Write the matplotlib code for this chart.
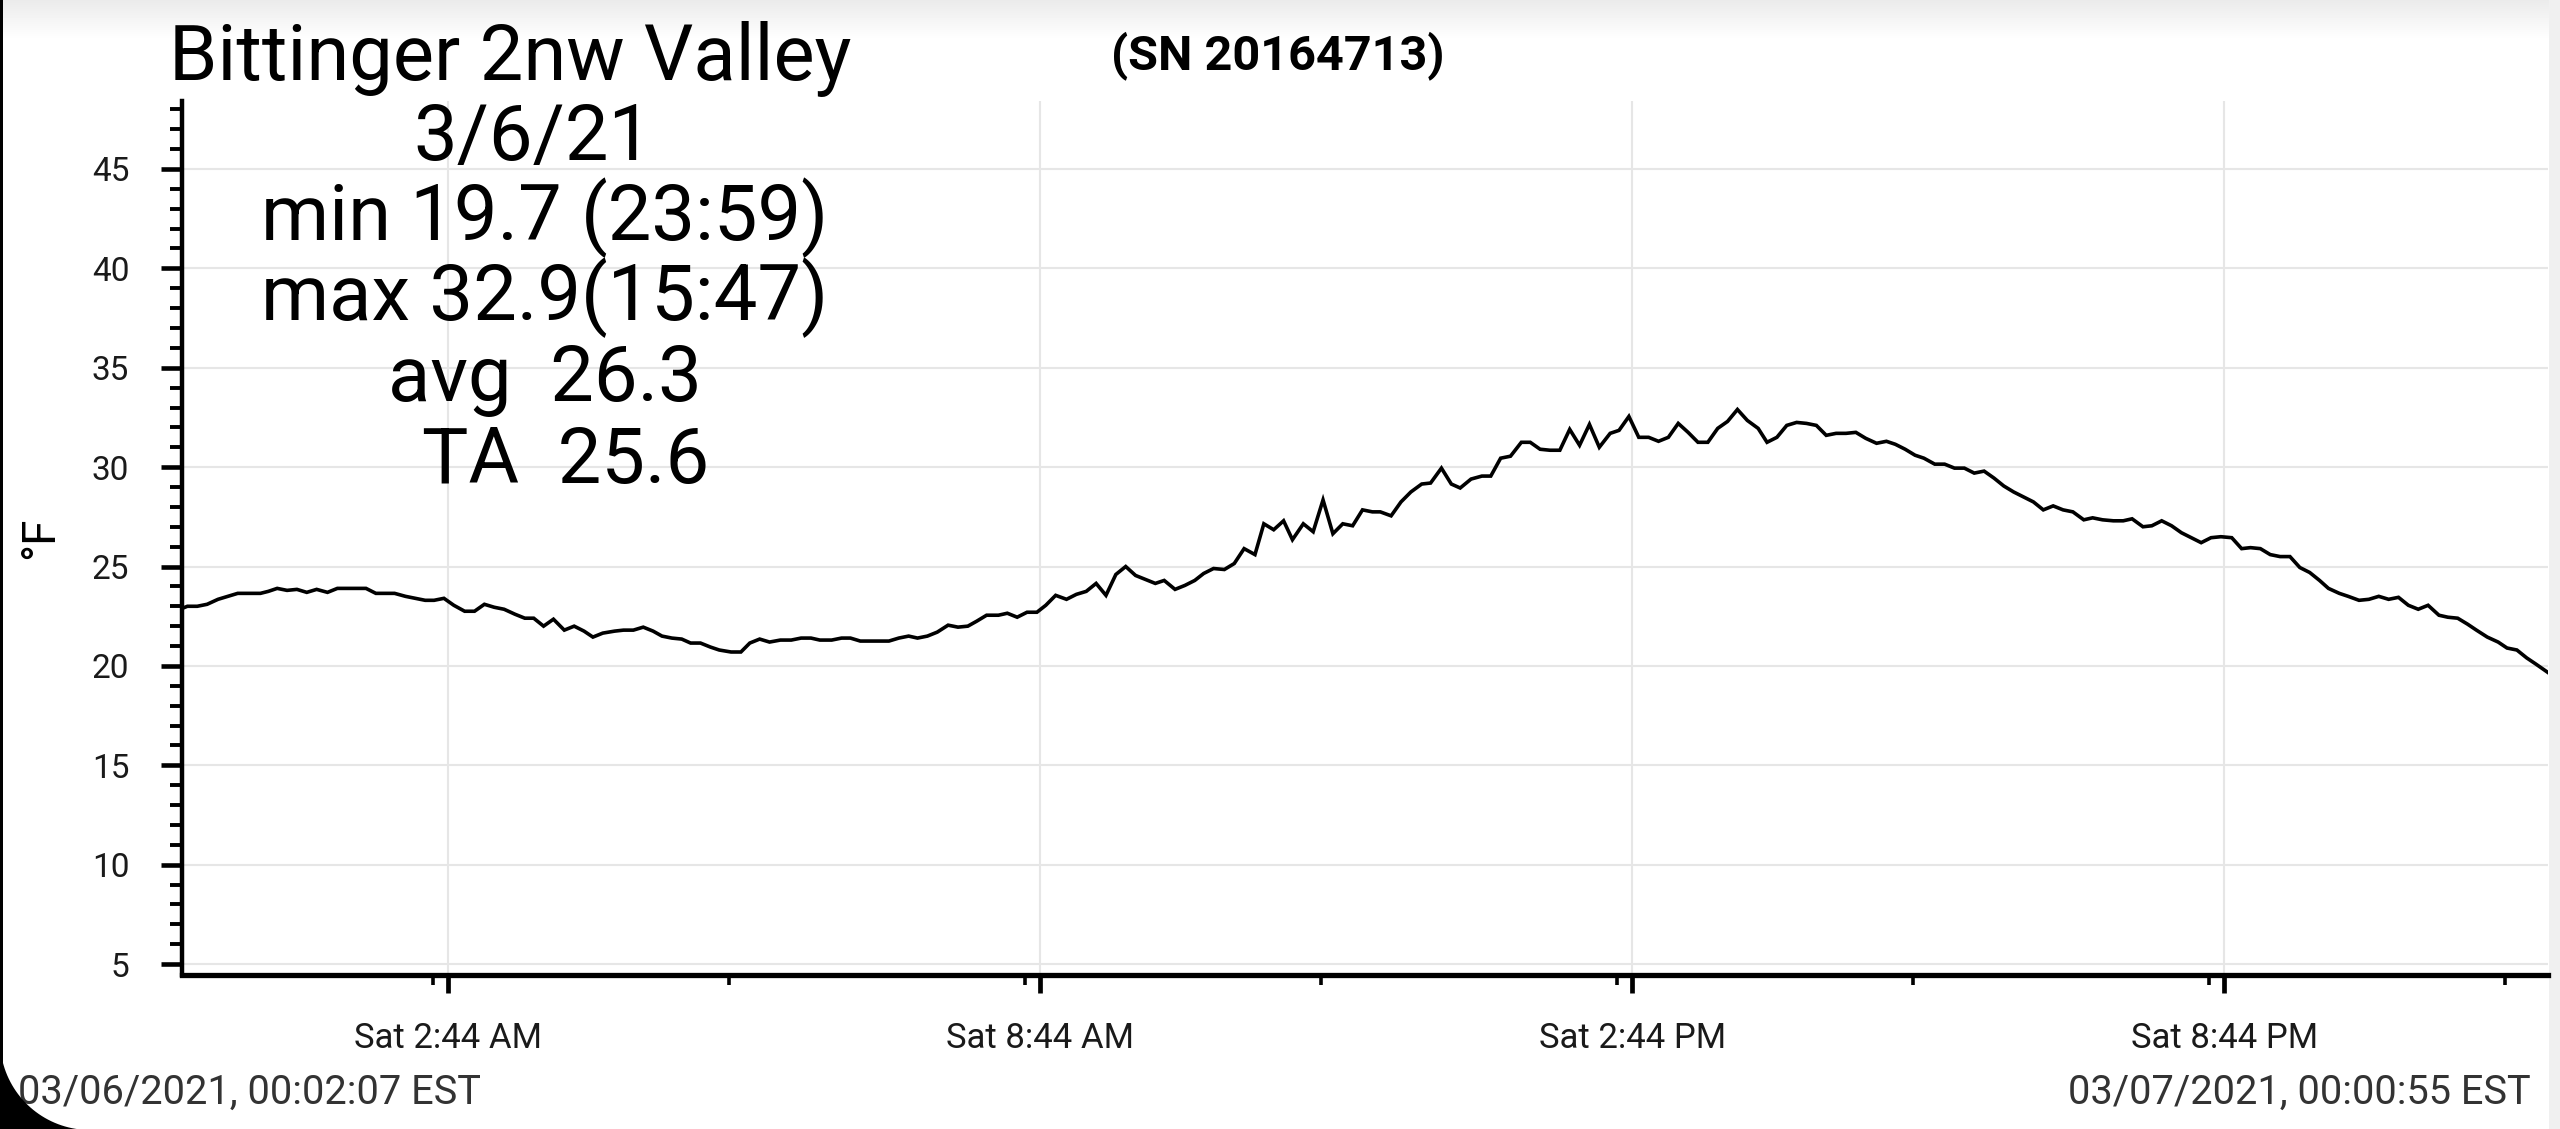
import numpy as np
import matplotlib
matplotlib.use("Agg")
import matplotlib.pyplot as plt
from matplotlib.patches import Rectangle, Polygon
from matplotlib.ticker import FixedLocator, MultipleLocator

plt.rcParams['font.family'] = ['Roboto', 'DejaVu Sans']

# temperature trace, hours since midnight 03/06/2021 and deg F
hours = [0.04, 0.09, 0.19, 0.29, 0.40, 0.50, 0.60, 0.71, 0.83, 0.91, 1.00, 1.10, 1.20, 1.30,
         1.40, 1.51, 1.61, 1.72, 1.81, 1.90, 2.00, 2.10, 2.19, 2.30, 2.40, 2.50, 2.59, 2.69,
         2.79, 2.90, 3.00, 3.10, 3.20, 3.30, 3.41, 3.51, 3.60, 3.70, 3.80, 3.91, 4.01, 4.11,
         4.20, 4.30, 4.42, 4.51, 4.61, 4.71, 4.81, 4.90, 5.00, 5.10, 5.19, 5.29, 5.39, 5.48,
         5.60, 5.70, 5.79, 5.89, 5.99,
         6.10, 6.21, 6.31, 6.41, 6.50, 6.62, 6.72, 6.81, 6.91, 7.01, 7.10, 7.20, 7.30, 7.40,
         7.49, 7.59, 7.69, 7.80, 7.90, 8.00, 8.09, 8.19, 8.31, 8.40, 8.50, 8.60, 8.70, 8.79,
         8.89, 9.00, 9.10, 9.20, 9.30, 9.40, 9.50, 9.60, 9.70, 9.80, 9.90, 9.99, 10.10, 10.20,
         10.30, 10.39, 10.49, 10.60, 10.70, 10.80, 10.91, 11.00, 11.10, 11.20, 11.29, 11.40,
         11.50, 11.60, 11.70, 11.80, 11.90, 12.00, 12.10,
         12.18, 12.29, 12.39, 12.49, 12.60, 12.69, 12.80, 12.90, 12.99, 13.10, 13.21, 13.30,
         13.40, 13.50, 13.61, 13.70, 13.80, 13.90, 14.00, 14.10, 14.20, 14.30, 14.40, 14.51,
         14.60, 14.70, 14.80, 14.90, 15.00, 15.10, 15.20, 15.30, 15.40, 15.50, 15.60, 15.70,
         15.80, 15.90, 16.01, 16.10, 16.20, 16.30, 16.40, 16.50, 16.60, 16.70, 16.80, 16.90,
         17.00, 17.10, 17.21, 17.31, 17.40, 17.50, 17.60, 17.69, 17.80, 17.90, 18.00, 18.10,
         18.20, 18.30, 18.40, 18.50, 18.60, 18.70, 18.80, 18.90, 19.00, 19.10, 19.20, 19.31,
         19.40, 19.50, 19.61, 19.71, 19.80, 19.91, 20.00, 20.10, 20.20, 20.30, 20.40, 20.50,
         20.60, 20.70, 20.81, 20.91, 21.00, 21.10, 21.20, 21.30, 21.40, 21.50, 21.60, 21.70,
         21.79, 21.90, 21.99, 22.10, 22.20, 22.30, 22.40, 22.50, 22.60, 22.70, 22.80, 22.91,
         23.00, 23.10, 23.20, 23.29, 23.40, 23.51, 23.60, 23.70, 23.80, 23.89, 24.02]
temps_f = [22.9, 23.0, 23.0, 23.1, 23.35, 23.5, 23.65, 23.65, 23.65, 23.75, 23.9, 23.8, 23.85, 23.7,
           23.85, 23.7, 23.9, 23.9, 23.9, 23.9, 23.65, 23.65, 23.65, 23.5, 23.4, 23.3, 23.3, 23.4,
           23.05, 22.75, 22.75, 23.1, 22.95, 22.85, 22.6, 22.4, 22.4, 22.0, 22.35, 21.8, 22.0, 21.75,
           21.45, 21.65, 21.75, 21.8, 21.8, 21.95, 21.75, 21.5, 21.4, 21.35, 21.15, 21.15, 20.95, 20.8,
           20.7, 20.7, 21.15, 21.35, 21.2,
           21.3, 21.3, 21.4, 21.4, 21.3, 21.3, 21.4, 21.4, 21.25, 21.25, 21.25, 21.25, 21.4, 21.5,
           21.4, 21.5, 21.7, 22.05, 21.95, 22.0, 22.25, 22.55, 22.55, 22.65, 22.45, 22.7, 22.7, 23.05,
           23.55, 23.35, 23.6, 23.75, 24.15, 23.55, 24.6, 25.0, 24.55, 24.35, 24.15, 24.3, 23.85, 24.05,
           24.3, 24.65, 24.9, 24.85, 25.15, 25.9, 25.6, 27.15, 26.85, 27.3, 26.35, 27.15,
           26.75, 28.35, 26.65, 27.15, 27.05, 27.85, 27.75,
           27.75, 27.55, 28.25, 28.75, 29.15, 29.2, 29.95, 29.15, 28.95, 29.4, 29.55, 29.55,
           30.45, 30.55, 31.25, 31.25, 30.9, 30.85, 30.85, 31.9, 31.1, 32.15, 31.0, 31.7,
           31.85, 32.55, 31.5, 31.5, 31.3, 31.5, 32.2, 31.75, 31.25, 31.25, 31.95, 32.3,
           32.9, 32.35, 31.95, 31.25, 31.5, 32.1, 32.25, 32.2, 32.1, 31.6, 31.7, 31.7,
           31.75, 31.45, 31.2, 31.3, 31.15, 30.9, 30.6, 30.45, 30.15, 30.15, 29.95, 29.95,
           29.7, 29.8, 29.45, 29.05, 28.75, 28.5, 28.25, 27.85, 28.05, 27.85, 27.75, 27.35,
           27.45, 27.35, 27.3, 27.3, 27.4, 27.0, 27.05, 27.3, 27.05, 26.7, 26.45, 26.2,
           26.45, 26.5, 26.45, 25.9, 25.95, 25.9, 25.6, 25.5, 25.5, 24.95, 24.7, 24.3,
           23.9, 23.65, 23.5, 23.3, 23.35, 23.5, 23.35, 23.45, 23.05, 22.85, 23.05, 22.55,
           22.45, 22.4, 22.1, 21.8, 21.45, 21.2, 20.9, 20.8, 20.4, 20.1, 19.65]

# axis range: 00:02:07 to 00:00:55 next day
x_start = 2 / 60 + 7 / 3600
x_end = 24 + 55 / 3600

label_hours = [2 + 44 / 60, 8 + 44 / 60, 14 + 44 / 60, 20 + 44 / 60]
label_texts = ['Sat 2:44 AM', 'Sat 8:44 AM', 'Sat 2:44 PM', 'Sat 8:44 PM']
minor_hours = [2.576 + 3 * k for k in range(8)]

title = 'Bittinger 2nw Valley'
serial = '(SN 20164713)'
stats_lines = ['3/6/21', 'min 19.7 (23:59)', 'max 32.9(15:47)', 'avg  26.3', 'TA  25.6']
start_stamp = '03/06/2021, 00:02:07 EST'
end_stamp = '03/07/2021, 00:00:55 EST'

W, H = 2560, 1129
fig = plt.figure(figsize=(W / 100, H / 100), dpi=100)

def fx(px):
    return px / W

def fy(py):
    return 1 - py / H

# screenshot decorations: top shadow band, right card edge, rounded corner
band = fig.add_axes([0, fy(40), 1, 40 / H], zorder=-5)
grad = np.linspace(0.87, 1.0, 40) ** 0.6
band.imshow(grad.reshape(-1, 1), cmap='gray', vmin=0, vmax=1, aspect='auto',
            extent=[0, 1, 0, 1], origin='upper')
band.axis('off')
fig.patches.append(Rectangle((fx(2549), 0), 1 - fx(2549), 1, transform=fig.transFigure,
                             facecolor='#f0f0f0', edgecolor='none', zorder=-4))
fig.patches.append(Rectangle((0, 0), fx(3), 1, transform=fig.transFigure,
                             facecolor='black', edgecolor='none', zorder=10))
t = np.linspace(0, np.pi / 2, 40)
arc = [(fx(90 - 90 * np.cos(a)), fy(1040 + 90 * np.sin(a))) for a in t]
corner = [(0, fy(1040))] + arc + [(fx(90), 0), (0, 0)]
fig.patches.append(Polygon(corner, closed=True, transform=fig.transFigure,
                           facecolor='black', edgecolor='none', zorder=10))

ax = fig.add_axes([fx(182), fy(975), fx(2548) - fx(182), (975 - 101) / H])
ax.plot(hours, temps_f, color='black', linewidth=2.6, solid_joinstyle='miter', zorder=3)

ax.set_xlim(x_start, x_end)
ax.set_ylim(4.45, 48.42)

ax.yaxis.set_major_locator(MultipleLocator(5))
ax.yaxis.set_minor_locator(FixedLocator([v for v in range(5, 49) if v % 5 != 0]))
ax.set_yticks(range(5, 50, 5))
ax.set_yticklabels([str(v) for v in range(5, 50, 5)])
ax.xaxis.set_major_locator(FixedLocator(label_hours))
ax.xaxis.set_minor_locator(FixedLocator(minor_hours))
ax.set_xticklabels(label_texts)

ax.tick_params(axis='y', which='major', length=15, width=3.3, pad=23, labelsize=24,
               labelcolor='#1a1a1a')
ax.tick_params(axis='y', which='minor', length=8.6, width=2.8)
ax.tick_params(axis='x', which='major', length=13, width=3.4, pad=21, labelsize=25,
               labelcolor='#1a1a1a')
ax.tick_params(axis='x', which='minor', length=7.2, width=2.6)

ax.grid(True, which='major', color='#e6e6e6', linewidth=1.5)
ax.set_axisbelow(True)
for side in ['top', 'right']:
    ax.spines[side].set_visible(False)
ax.spines['left'].set_linewidth(3.2)
ax.spines['bottom'].set_linewidth(3.8)
ax.set_facecolor('none')

# titles and summary block
fig.text(fx(510), fy(80), title, ha='center', va='baseline', fontsize=56)
fig.text(fx(1278), fy(69), serial, ha='center', va='baseline', fontsize=35, fontweight='bold')
stat_x = [533, 545, 545, 545, 566]
stat_base = [160, 240, 320, 401, 483]
for line, sx, sb in zip(stats_lines, stat_x, stat_base):
    fig.text(fx(sx), fy(sb), line, ha='center', va='baseline', fontsize=56)

fig.text(fx(40), fy(538), '°F', rotation=90, ha='center', va='center', fontsize=33)
fig.text(fx(18), fy(1104), start_stamp, ha='left', va='baseline', fontsize=28.6, color='#333333')
fig.text(fx(2531), fy(1104), end_stamp, ha='right', va='baseline', fontsize=28.6, color='#333333')

fig.savefig('out.png', dpi=100, facecolor='white')
